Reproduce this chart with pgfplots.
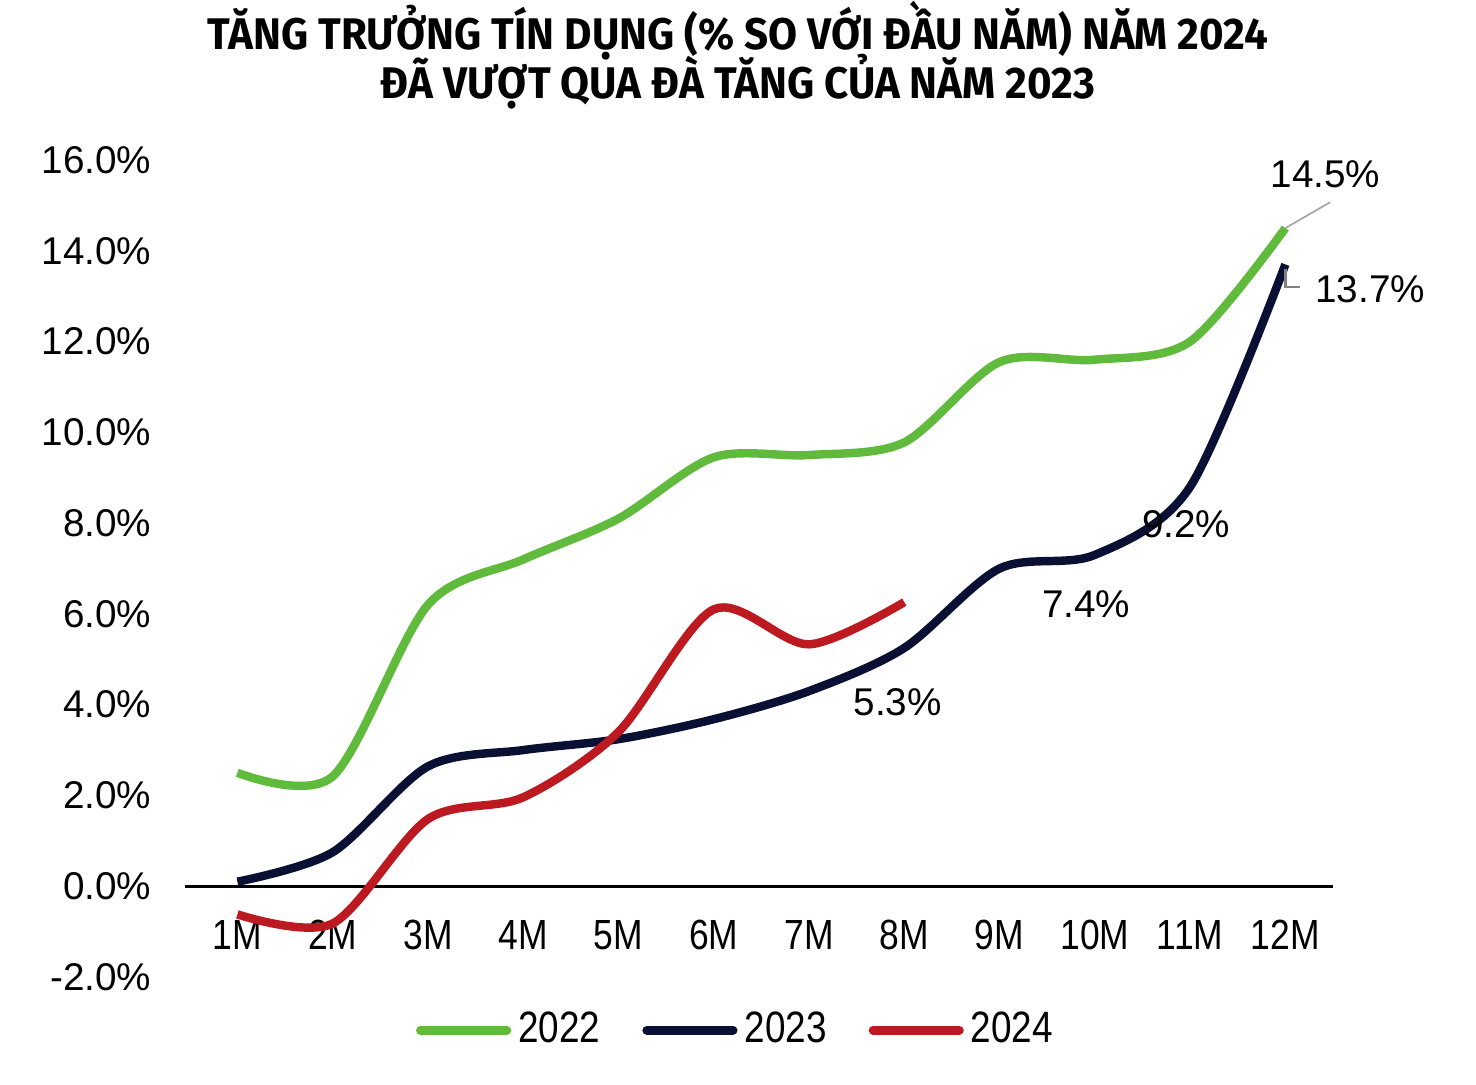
\documentclass[border=0pt]{standalone}
\usepackage{fontspec}
\usepackage{pgfplots}
\pgfplotsset{compat=1.18}
\setmainfont{Liberation Sans}
\newfontfamily\titlefont{Fira Sans}[FakeStretch=0.95]
\newfontfamily\narrowfont{Liberation Sans}[FakeStretch=0.84]

\definecolor{c2022}{RGB}{96,186,60}
\definecolor{c2023}{RGB}{10,16,52}
\definecolor{c2024}{RGB}{188,26,32}

\begin{document}
\begin{tikzpicture}
\useasboundingbox (-18.5mm,-10.7mm) rectangle (129.1mm,97.7mm);
\node[font=\titlefont\bfseries\fontsize{12.6}{13.4}\selectfont, align=center] at (55.3mm,92.2mm)
  {TĂNG TRƯỞNG TÍN DỤNG (\% SO VỚI ĐẦU NĂM) NĂM 2024\\[-2.8pt]ĐÃ VƯỢT QUA ĐÀ TĂNG CỦA NĂM 2023};
\begin{axis}[
    at={(0,0)}, anchor=south west,
    scale only axis,
    width=114.8mm, height=81.7mm,
    xmin=0.45, xmax=12.5,
    ymin=-2, ymax=16,
    axis line style={draw=none},
    tick style={draw=none},
    xtick={1,2,3,4,5,6,7,8,9,10,11,12},
    xticklabels={1M,2M,3M,4M,5M,6M,7M,8M,9M,10M,11M,12M},
    ytick={-2,0,2,4,6,8,10,12,14,16},
    yticklabels={-2.0\%,0.0\%,2.0\%,4.0\%,6.0\%,8.0\%,10.0\%,12.0\%,14.0\%,16.0\%},
    /pgf/number format/assume math mode=true,
    xticklabel style={font=\narrowfont\fontsize{12}{14}\selectfont, anchor=center, yshift=4.2mm},
    yticklabel style={font=\fontsize{11}{13}\selectfont, anchor=east, inner sep=0pt, xshift=-3.3mm},
    legend columns=3,
    legend style={draw=none, at={(0.4817,-0.065)}, anchor=center,
        font=\narrowfont\fontsize{12.5}{14}\selectfont,
        /tikz/every even column/.append style={column sep=3.5mm}},
    legend image code/.code={\draw[#1, line width=2.6pt, line cap=round] (0mm,0mm) -- (8.6mm,0mm);},
    clip=false,
]
\draw[black, line width=0.9pt] (axis cs:0.45,0) -- (axis cs:12.5,0);

\addplot[c2022, line width=2.4pt, smooth, tension=0.5] coordinates {
  (1,2.5) (2,2.42) (3,6.2) (4,7.2) (5,8.1) (6,9.45) (7,9.5) (8,9.78) (9,11.55) (10,11.6) (11,12.0) (12,14.5)
};
\addlegendentry{2022}
\addplot[c2023, line width=2.4pt, smooth, tension=0.5] coordinates {
  (1,0.1) (2,0.75) (3,2.64) (4,3.0) (5,3.24) (6,3.68) (7,4.3) (8,5.25) (9,7.0) (10,7.3) (11,8.8) (12,13.7)
};
\addlegendentry{2023}
\addplot[c2024, line width=2.4pt, smooth, tension=0.5] coordinates {
  (1,-0.62) (2,-0.82) (3,1.48) (4,1.96) (5,3.4) (6,6.1) (7,5.33) (8,6.26)
};
\addlegendentry{2024}

\draw[gray!70, line width=0.5pt] (axis cs:12,14.5) -- (axis cs:12.47,15.07);
\draw[gray, line width=0.7pt] (axis cs:12,13.6) -- (axis cs:12,13.2) -- (axis cs:12.15,13.2);
\node[font=\fontsize{11}{13}\selectfont] at (axis cs:12.42,15.68) {14.5\%};
\node[font=\fontsize{11}{13}\selectfont] at (axis cs:12.89,13.15) {13.7\%};
\node[font=\fontsize{11}{13}\selectfont] at (axis cs:10.96,7.97) {9.2\%};
\node[font=\fontsize{11}{13}\selectfont] at (axis cs:9.91,6.21) {7.4\%};
\node[font=\fontsize{11}{13}\selectfont] at (axis cs:7.93,4.05) {5.3\%};
\end{axis}
\end{tikzpicture}
\end{document}
